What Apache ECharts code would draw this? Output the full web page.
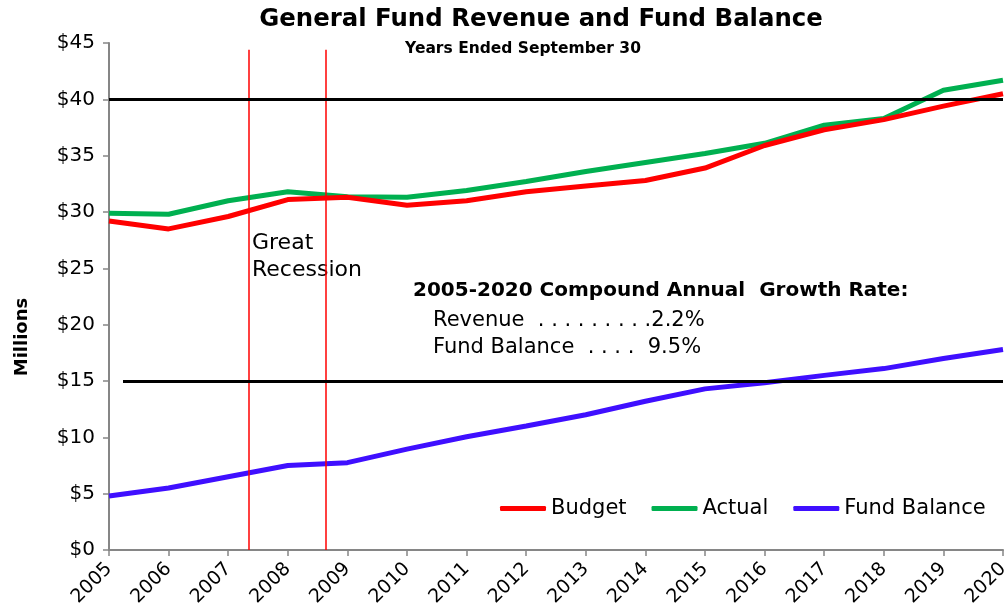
<!DOCTYPE html>
<html><head><meta charset="utf-8">
<script src="https://cdn.jsdelivr.net/npm/echarts@6/dist/echarts.min.js"></script>
<style>html,body{margin:0;padding:0;background:#fff;overflow:hidden;width:100%;height:100%}#c{width:1005px;height:613px}</style>
</head><body><div id="c"></div>
<script>
var years = [2005,2006,2007,2008,2009,2010,2011,2012,2013,2014,2015,2016,2017,2018,2019,2020];
var budget = [29.2,28.5,29.6,31.1,31.3,30.6,31.0,31.8,32.3,32.8,33.9,35.9,37.3,38.2,39.4,40.5];
var actual = [29.9,29.8,31.0,31.8,31.35,31.3,31.9,32.7,33.6,34.4,35.2,36.1,37.7,38.3,40.8,41.7];
var fundBalance = [4.8,5.5,6.5,7.5,7.75,8.95,10.05,11.0,12.0,13.2,14.3,14.85,15.5,16.1,17.0,17.8];
var yTicks = [0,5,10,15,20,25,30,35,40,45];
var recessionStart = 2007.35, recessionEnd = 2008.64;

function pairs(arr){ return years.map(function(y,i){ return [y, arr[i]]; }); }
var FONT = '"DejaVu Sans", Verdana, sans-serif';
var chart = echarts.init(document.getElementById('c'), null, {renderer:'canvas'});
chart.setOption({
  animation:false,
  backgroundColor:'#fff',
  title:[{text:'General Fund Revenue and Fund Balance', left:536, top:3, textAlign:'center',
          textStyle:{fontFamily:FONT, fontSize:24.4, fontWeight:'bold', color:'#000'}},
         {text:'Years Ended September 30', left:518, top:36, textAlign:'center',
          textStyle:{fontFamily:FONT, fontSize:15.5, fontWeight:'bold', color:'#000'}}],
  grid:{left:109, right:2, top:43, bottom:63, containLabel:false, outerBoundsMode:'none'},
  legend:{left:495, top:493, itemWidth:46, itemHeight:5, itemGap:25, icon:'roundRect',
          textStyle:{fontFamily:FONT, fontSize:21, color:'#000'},
          data:['Budget','Actual','Fund Balance']},
  xAxis:{type:'value', min:2005, max:2020, interval:1,
         axisLine:{lineStyle:{color:'#868686', width:2}},
         axisTick:{show:true, length:6, lineStyle:{color:'#868686', width:1.5}},
         splitLine:{show:false},
         axisLabel:{rotate:45, fontFamily:FONT, fontSize:19, color:'#000', margin:16,
                    formatter:function(v){ return String(v); }}},
  yAxis:{type:'value', min:yTicks[0], max:yTicks[yTicks.length-1], interval:5,
         axisLine:{show:true, lineStyle:{color:'#868686', width:2}},
         axisTick:{show:true, inside:false, length:6, lineStyle:{color:'#868686', width:1.5}},
         splitLine:{show:false},
         axisLabel:{fontFamily:FONT, fontSize:20, color:'#000', margin:14,
                    formatter:function(v){ return '$'+v; }}},
  graphic:[
    {type:'text', x:22, y:337, rotation:Math.PI/2,
     style:{text:'Millions', font:'bold 18px '+FONT, fill:'#000', align:'center', verticalAlign:'middle'}},
    {type:'text', left:252, top:230, style:{text:'Great\nRecession', font:'22px '+FONT, fill:'#000', lineHeight:27}},
    {type:'text', left:413, top:281, style:{text:'2005-2020 Compound Annual  Growth Rate:', font:'bold 20px '+FONT, fill:'#000'}},
    {type:'text', left:433, top:307, style:{text:'Revenue  . . . . . . . . .2.2%\nFund Balance  . . . .  9.5%', font:'21px '+FONT, fill:'#000', lineHeight:27}}
  ],
  series:[
    {name:'Budget', type:'line', data:pairs(budget), symbol:'none', color:'#FF0000',
     lineStyle:{width:5, color:'#FF0000'}, z:3,
     markLine:{silent:true, symbol:'none', label:{show:false}, animation:false,
       data:[
         [{coord:[recessionStart,0], lineStyle:{color:'#FF0000', width:1.5, type:'solid'}},{coord:[recessionStart,44.4]}],
         [{coord:[recessionEnd,0], lineStyle:{color:'#FF0000', width:1.5, type:'solid'}},{coord:[recessionEnd,44.4]}]
       ]}},
    {name:'Actual', type:'line', data:pairs(actual), symbol:'none', color:'#00B050',
     lineStyle:{width:5, color:'#00B050'}, z:2,
     markLine:{silent:true, symbol:'none', label:{show:false}, animation:false,
       data:[
         [{coord:[2005,40], lineStyle:{color:'#000', width:3, type:'solid'}},{coord:[2020,40]}],
         [{coord:[2005.235,15], lineStyle:{color:'#000', width:3, type:'solid'}},{coord:[2020,15]}]
       ]}},
    {name:'Fund Balance', type:'line', data:pairs(fundBalance), symbol:'none', color:'#3F0FFF',
     lineStyle:{width:5, color:'#3F0FFF'}, z:3}
  ]
});
</script></body></html>
